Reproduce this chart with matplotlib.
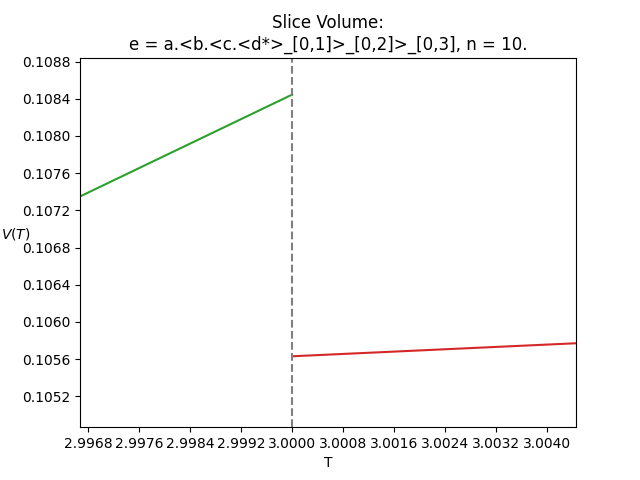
import matplotlib
matplotlib.use("Agg")
import matplotlib.pyplot as plt

# values
t_left = [2.99667, 3.0]
v_left = [0.107349, 0.108445]
t_right = [3.0, 3.004455]
v_right = [0.105630, 0.105770]
t_split = 3.0

fig, ax = plt.subplots(figsize=(6.4, 4.8), dpi=100)
ax.plot(t_left, v_left, color="tab:green")
ax.plot(t_right, v_right, color="tab:red")
ax.axvline(t_split, color="gray", linestyle="--")
ax.set_xlim(2.99667, 3.004455)
ax.set_ylim(0.104867, 0.108843)
ax.set_xticks([2.9968 + 0.0008 * i for i in range(10)])
ax.set_yticks([0.1052 + 0.0004 * i for i in range(10)])
ax.ticklabel_format(useOffset=False)
ax.set_xlabel("T")
ax.set_ylabel("$V(T)$", rotation=0)
ax.set_title("Slice Volume:\ne = a.<b.<c.<d*>_[0,1]>_[0,2]>_[0,3], n = 10.")
fig.savefig("out.png")
